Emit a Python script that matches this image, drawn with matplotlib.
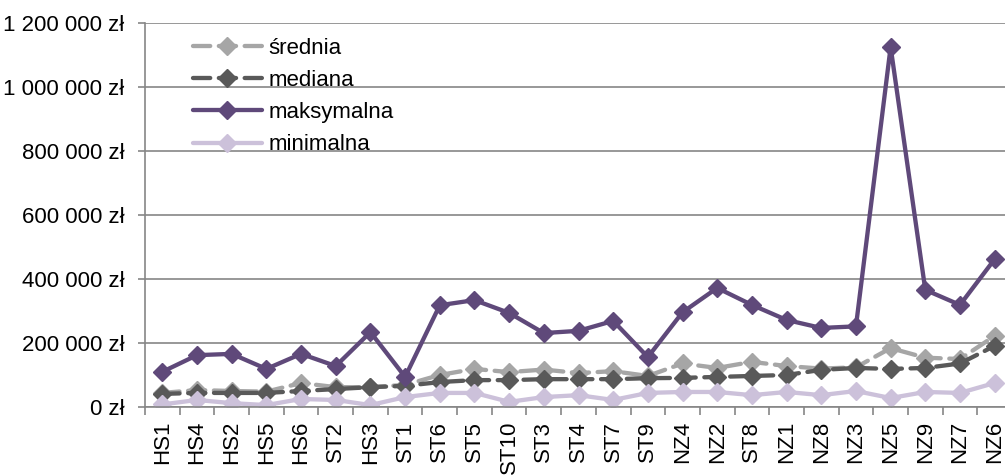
import numpy as np
import matplotlib
matplotlib.use('Agg')
import matplotlib.pyplot as plt
from matplotlib.ticker import FuncFormatter, MultipleLocator

plt.rcParams['font.family'] = ['Liberation Sans', 'DejaVu Sans']

kategorie = ['HS1', 'HS4', 'HS2', 'HS5', 'HS6', 'ST2', 'HS3', 'ST1', 'ST6', 'ST5',
             'ST10', 'ST3', 'ST4', 'ST7', 'ST9', 'NZ4', 'NZ2', 'ST8', 'NZ1', 'NZ8',
             'NZ3', 'NZ5', 'NZ9', 'NZ7', 'NZ6']

srednia = [44000, 53000, 50000, 48000, 75000, 62000, 62000, 69000, 100000, 119000,
           109000, 117000, 106000, 112000, 97000, 136000, 122000, 141000, 128000, 120000,
           124000, 184000, 154000, 150000, 222000]
mediana = [41000, 44000, 44000, 44000, 50000, 56000, 62000, 66000, 78000, 84000,
           84000, 87000, 87000, 87000, 90000, 91000, 94000, 97000, 100000, 116000,
           122000, 119000, 122000, 136000, 191000]
maksymalna = [110000, 162000, 166000, 119000, 166000, 128000, 234000, 94000, 318000, 334000,
              294000, 231000, 238000, 269000, 156000, 296000, 372000, 319000, 272000, 247000,
              252000, 1125000, 366000, 319000, 462000]
minimalna = [8000, 22000, 12000, 6000, 25000, 22000, 6000, 31000, 44000, 44000,
             16000, 31000, 37000, 22000, 44000, 47000, 47000, 37000, 47000, 37000,
             50000, 28000, 47000, 44000, 75000]

serie = [
    ('średnia', srednia, '#a6a6a6', True),
    ('mediana', mediana, '#595959', True),
    ('maksymalna', maksymalna, '#5f497a', False),
    ('minimalna', minimalna, '#ccc1da', False),
]

fig = plt.figure(figsize=(10.05, 4.75), dpi=100)
ax = fig.add_axes([145 / 1005, 1 - 407 / 475, (1012 - 145) / 1005, (407 - 23) / 475])

x = np.arange(len(kategorie))
for nazwa, wart, kolor, przerywana in serie:
    line, = ax.plot(x, wart, color=kolor, lw=3.1, marker='D', markersize=9,
                    label=nazwa, solid_capstyle='round')
    if przerywana:
        line.set_dashes((4, 2))
        line.set_dash_capstyle('round')

ax.set_xlim(-0.5, len(kategorie) - 0.5)
ax.set_ylim(0, 1200000)
ax.yaxis.set_major_locator(MultipleLocator(200000))
ax.yaxis.set_major_formatter(FuncFormatter(lambda v, p: f"{v:,.0f}".replace(',', ' ') + ' zł'))
ax.grid(axis='y', color='#868686', lw=1.2)
ax.set_axisbelow(True)

ax.set_xticks(x)
ax.set_xticklabels(kategorie, rotation=90)
ax.set_xticks(np.arange(-0.5, len(kategorie)), minor=True)
ax.tick_params(axis='x', which='major', length=0, pad=10, labelsize=16)
ax.tick_params(axis='x', which='minor', length=6, color='#868686', width=1.2)
ax.tick_params(axis='y', length=5, color='#868686', width=1.2, pad=10, labelsize=16)

for s in ['top', 'right']:
    ax.spines[s].set_visible(False)
for s in ['left', 'bottom']:
    ax.spines[s].set_color('#868686')
    ax.spines[s].set_linewidth(1.2)

ax.legend(loc='upper left', bbox_to_anchor=(193 / 1005, 1 - 38 / 475),
          bbox_transform=fig.transFigure, frameon=False, fontsize=16,
          handlelength=3.1, handletextpad=0.3, borderpad=0, borderaxespad=0,
          labelspacing=0.5)

fig.savefig('out.png', dpi=100)
